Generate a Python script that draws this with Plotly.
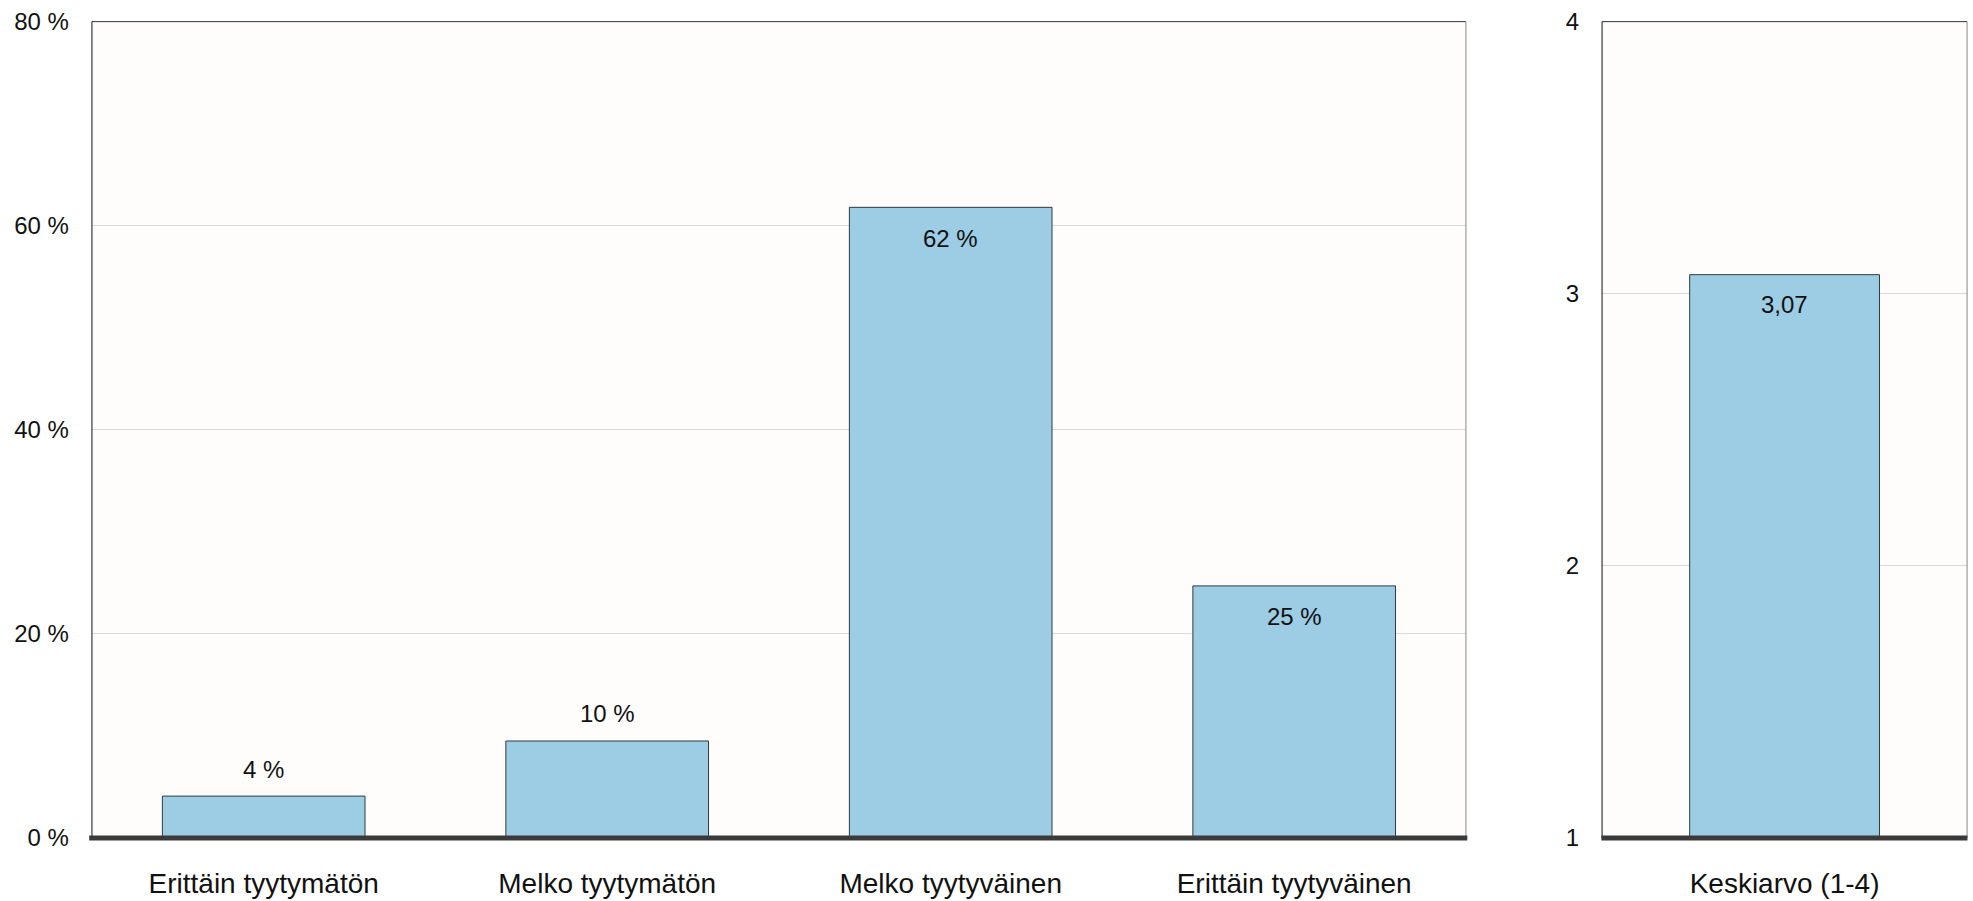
import plotly.graph_objects as go

# data
categories = ["Erittäin tyytymätön", "Melko tyytymätön", "Melko tyytyväinen", "Erittäin tyytyväinen"]
shares = [4.1, 9.5, 61.8, 24.7]
share_labels = ["4 %", "10 %", "62 %", "25 %"]
label_inside = [False, False, True, True]

mean_category = ["Keskiarvo (1-4)"]
mean_value = [3.07]
mean_label = ["3,07"]

pct_ticks = [0, 20, 40, 60, 80]
mean_ticks = [1, 2, 3, 4]

FONT = "Liberation Sans, Arial, sans-serif"
BAR_COLOR = "#9ccde4"
BAR_EDGE = "#2f3a40"
AXIS_DARK = "#3a3a3a"
GRID = "#d9d9d9"

fig = go.Figure()

fig.add_trace(go.Bar(
    x=categories, y=shares, width=0.59,
    marker=dict(color=BAR_COLOR, line=dict(color=BAR_EDGE, width=1)),
    xaxis="x", yaxis="y", hoverinfo="x+y", showlegend=False,
))
fig.add_trace(go.Bar(
    x=mean_category, y=mean_value, width=0.52, base=0,
    marker=dict(color=BAR_COLOR, line=dict(color=BAR_EDGE, width=1)),
    xaxis="x2", yaxis="y2", hoverinfo="x+y", showlegend=False,
))

annotations = []
for cat, val, lab, inside in zip(categories, shares, share_labels, label_inside):
    annotations.append(dict(
        x=cat, y=val, xref="x", yref="y", text=lab, showarrow=False,
        yanchor="middle", yshift=-31 if inside else 27,
        font=dict(family=FONT, size=24, color="#111111"),
    ))
for cat, val, lab in zip(mean_category, mean_value, mean_label):
    annotations.append(dict(
        x=cat, y=val, xref="x2", yref="y2", text=lab, showarrow=False,
        yanchor="middle", yshift=-30,
        font=dict(family=FONT, size=24, color="#111111"),
    ))

shapes = []
for xr, yr in (("x domain", "y domain"), ("x2 domain", "y2 domain")):
    # plot frame: dark top/left, grey right
    shapes.append(dict(type="line", xref=xr, yref=yr, x0=0, x1=1, y0=1, y1=1,
                       line=dict(color="#333333", width=1), layer="above"))
    shapes.append(dict(type="line", xref=xr, yref=yr, x0=0, x1=0, y0=0, y1=1,
                       line=dict(color="#111111", width=1), layer="above"))
    shapes.append(dict(type="line", xref=xr, yref=yr, x0=1, x1=1, y0=0, y1=1,
                       line=dict(color="#888888", width=1), layer="above"))
    # thick baseline
    shapes.append(dict(type="line", xref=xr, yref=yr, x0=-0.002, x1=1.001, y0=0, y1=0,
                       line=dict(color=AXIS_DARK, width=5), layer="above"))

fig.update_layout(
    width=1973, height=901,
    margin=dict(l=0, r=0, t=0, b=0, autoexpand=False),
    paper_bgcolor="white",
    plot_bgcolor="#fefdfc",
    font=dict(family=FONT, color="#111111"),
    xaxis=dict(domain=[0.0466, 0.743], showgrid=False, zeroline=False, automargin=False,
               tickfont=dict(size=28), ticks="", ticklabelstandoff=26),
    yaxis=dict(domain=[0.07, 0.976], range=[0, 80], tickvals=pct_ticks, automargin=False,
               ticktext=[f"{v} %" for v in pct_ticks],
               showgrid=True, gridcolor=GRID, gridwidth=1, zeroline=False,
               tickfont=dict(size=24), ticks="", ticklabelstandoff=22),
    xaxis2=dict(domain=[0.812, 0.997], anchor="y2", showgrid=False, zeroline=False,
                automargin=False, tickfont=dict(size=28), ticks="", ticklabelstandoff=26),
    yaxis2=dict(domain=[0.07, 0.976], anchor="x2", range=[1, 4], tickvals=mean_ticks,
                automargin=False, showgrid=True, gridcolor=GRID, gridwidth=1, zeroline=False,
                tickfont=dict(size=24), ticks="", ticklabelstandoff=22),
    annotations=annotations,
    shapes=shapes,
)

# drop the default page margin so the figure sits at the window's corner
fig.write_html("out.html", config={"displayModeBar": False},
               post_script="document.body.style.margin='0';")
